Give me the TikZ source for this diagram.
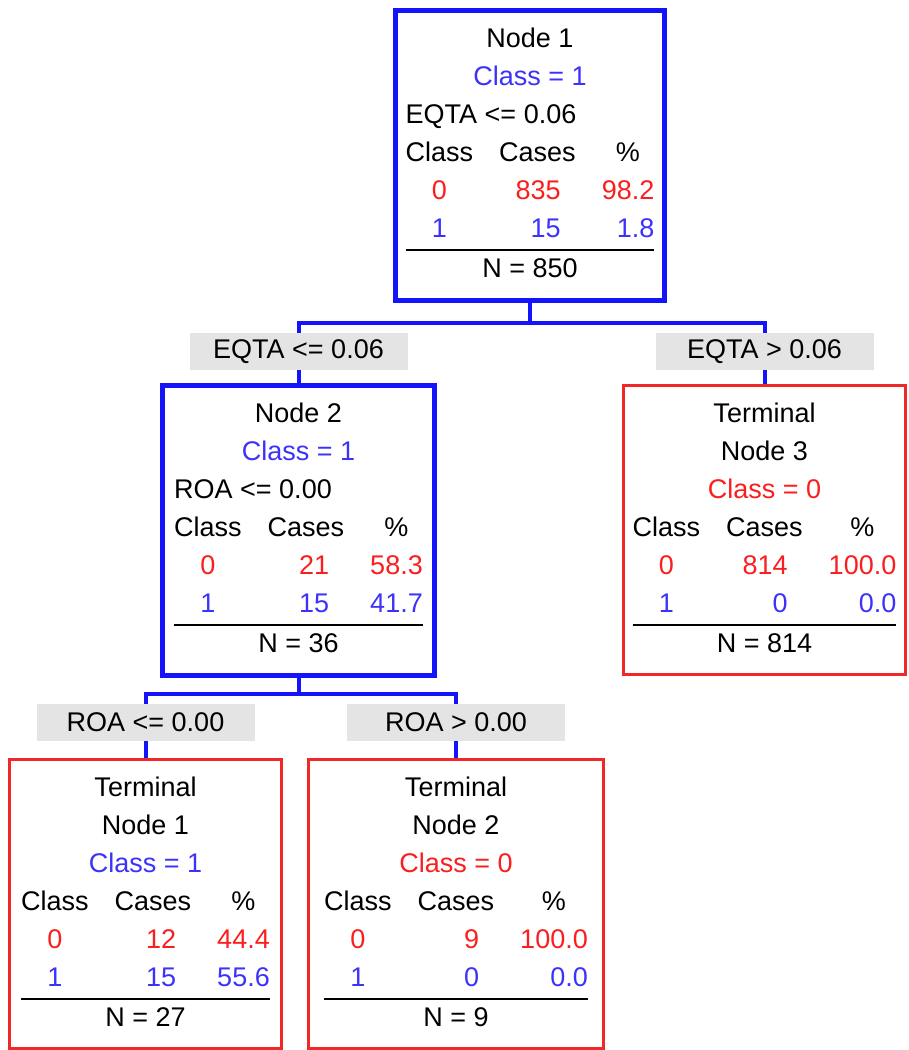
\documentclass[tikz,border=0pt]{standalone}
\usepackage{fontspec}
\setmainfont{Liberation Sans}
\usepackage{tikz}
\definecolor{boxblue}{RGB}{20,20,250}
\definecolor{txtblue}{RGB}{60,50,250}
\definecolor{txtred}{RGB}{250,30,30}
\definecolor{boxred}{RGB}{240,40,40}
\definecolor{labgray}{RGB}{228,228,228}
\newcommand{\centrerow}[1]{\multicolumn{3}{@{}c@{}}{#1}\\}
\newcommand{\leftrow}[1]{\multicolumn{3}{@{}l@{}}{#1}\\}
\newcommand{\casetable}[6]{%
	\setlength{\tabcolsep}{13pt}\setlength{\arrayrulewidth}{2.5pt}%
	\begin{tabular}{@{}crr@{}}
	#1
	Class & Cases & \multicolumn{1}{c@{}}{\%}\\
	\color{txtred}0 & \color{txtred}#2\kern15pt & \color{txtred}#3\\
	\color{txtblue}1 & \color{txtblue}#4\kern15pt & \color{txtblue}#5\\ \hline
	\centrerow{N = #6}
	\end{tabular}}

\begin{document}
\begin{tikzpicture}[x=1pt,y=-1pt,
	every node/.style={font=\fontsize{27}{38}\selectfont, inner sep=0pt},
	splitnode/.style={draw=boxblue, line width=5pt, minimum height=290pt, anchor=north},
	termnode/.style={draw=boxred, line width=2.5pt, minimum height=289pt, anchor=north},
	cutlabel/.style={fill=labgray, minimum width=218pt, minimum height=37pt},
	branch/.style={draw=boxblue, line width=4pt}]
\useasboundingbox (0,0) rectangle (909,1050);

\node[splitnode, minimum width=269pt] (n1) at (530,7.5)
	{\casetable{\centrerow{Node 1}\centrerow{\color{txtblue}Class = 1}\leftrow{EQTA <= 0.06}}{835}{98.2}{15}{1.8}{850}};
\node[splitnode, minimum width=272pt] (n2) at (298.5,382.5)
	{\casetable{\centrerow{Node 2}\centrerow{\color{txtblue}Class = 1}\leftrow{ROA <= 0.00}}{21}{58.3}{15}{41.7}{36}};
\node[termnode, minimum width=282pt] (t3) at (764.5,384)
	{\casetable{\centrerow{Terminal}\centrerow{Node 3}\centrerow{\color{txtred}Class = 0}}{814}{100.0}{0}{0.0}{814}};
\node[termnode, minimum width=272pt] (t1) at (145.5,758)
	{\casetable{\centrerow{Terminal}\centrerow{Node 1}\centrerow{\color{txtblue}Class = 1}}{12}{44.4}{15}{55.6}{27}};
\node[termnode, minimum width=295pt] (t2) at (456,758)
	{\casetable{\centrerow{Terminal}\centrerow{Node 2}\centrerow{\color{txtred}Class = 0}}{9}{100.0}{0}{0.0}{9}};

\node[cutlabel] (l2) at (298.5,351.5) {EQTA <= 0.06};
\node[cutlabel] (l3) at (764.5,351.5) {EQTA > 0.06};
\node[cutlabel] (l4) at (145.5,722.5) {ROA <= 0.00};
\node[cutlabel] (l5) at (456,722.5) {ROA > 0.00};

\draw[branch] (n1.south) -- ++(0,20) coordinate (j1);
\draw[branch] (l2.north) |- (j1) -| (l3.north);
\draw[branch] (l2.south) -- (n2.north);
\draw[branch] (l3.south) -- (t3.north);
\draw[branch] (n2.south) -- ++(0,16) coordinate (j2);
\draw[branch] (l4.north) |- (j2) -| (l5.north);
\draw[branch] (l4.south) -- (t1.north);
\draw[branch] (l5.south) -- (t2.north);
\end{tikzpicture}
\end{document}
